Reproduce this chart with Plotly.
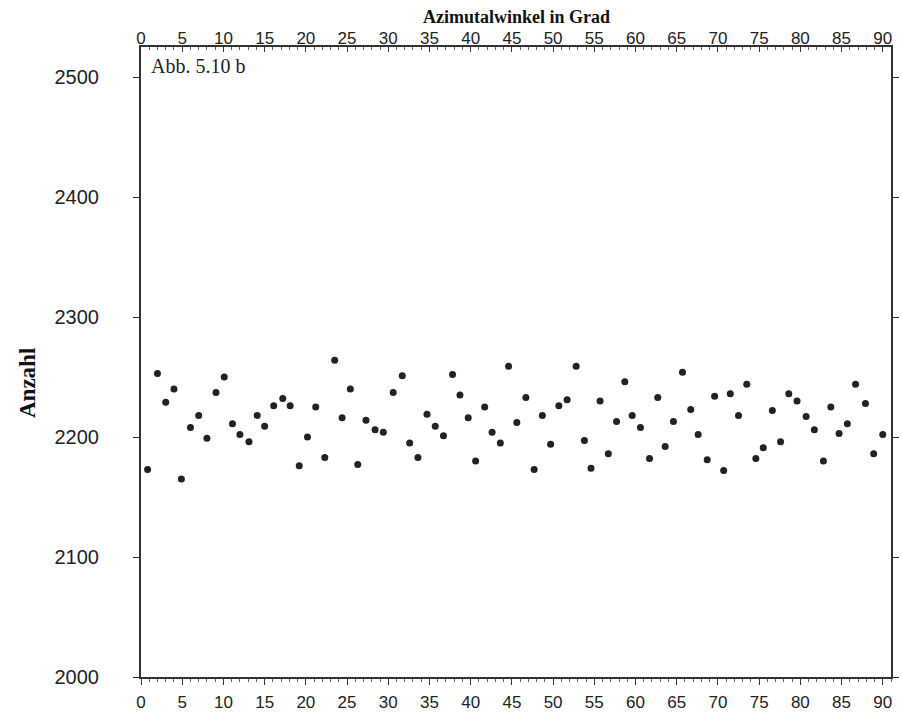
import plotly.graph_objects as go

# Azimuthal angle (degrees) of each point
winkel = [0.8, 2.0, 3.0, 4.0, 4.9, 6.0, 7.0, 8.0, 9.1, 10.1, 11.1, 12.0, 13.1, 14.1, 15.0,
          16.1, 17.2, 18.1, 19.2, 20.2, 21.2, 22.3, 23.5, 24.4, 25.4, 26.3, 27.3, 28.4, 29.4,
          30.6, 31.7, 32.6, 33.6, 34.7, 35.7, 36.7, 37.8, 38.7, 39.7, 40.6, 41.7, 42.6, 43.6,
          44.6, 45.6, 46.7, 47.7, 48.7, 49.7, 50.7, 51.7, 52.8, 53.8, 54.6, 55.7, 56.7, 57.7,
          58.7, 59.6, 60.6, 61.7, 62.7, 63.6, 64.6, 65.7, 66.7, 67.6, 68.7, 69.6, 70.7, 71.5,
          72.5, 73.5, 74.6, 75.5, 76.6, 77.6, 78.6, 79.6, 80.7, 81.7, 82.8, 83.7, 84.7, 85.7,
          86.7, 87.9, 88.9, 90.0]

# Counts (Anzahl)
anzahl = [2173, 2253, 2229, 2240, 2165, 2208, 2218, 2199, 2237, 2250, 2211, 2202, 2196, 2218, 2209,
          2226, 2232, 2226, 2176, 2200, 2225, 2183, 2264, 2216, 2240, 2177, 2214, 2206, 2204,
          2237, 2251, 2195, 2183, 2219, 2209, 2201, 2252, 2235, 2216, 2180, 2225, 2204, 2195,
          2259, 2212, 2233, 2173, 2218, 2194, 2226, 2231, 2259, 2197, 2174, 2230, 2186, 2213,
          2246, 2218, 2208, 2182, 2233, 2192, 2213, 2254, 2223, 2202, 2181, 2234, 2172, 2236,
          2218, 2244, 2182, 2191, 2222, 2196, 2236, 2230, 2217, 2206, 2180, 2225, 2203, 2211,
          2244, 2228, 2186, 2202]

x_ticks = list(range(0, 91, 5))
y_ticks = [2000, 2100, 2200, 2300, 2400, 2500]

tick_font = dict(family="Liberation Sans, Arial, sans-serif", size=17, color="#222")
serif = "Liberation Serif, Times New Roman, serif"
line_col = "#333"

fig = go.Figure()
fig.add_trace(go.Scatter(
    x=winkel, y=anzahl, mode="markers",
    marker=dict(size=7, color="#222"),
    showlegend=False, hoverinfo="x+y"))
# invisible trace so the top axis is drawn
fig.add_trace(go.Scatter(x=[winkel[0]], y=[anzahl[0]], xaxis="x2", mode="markers",
                         marker=dict(size=1, opacity=0), showlegend=False, hoverinfo="skip"))

axis_common = dict(
    range=[0, 91], tickvals=x_ticks, ticktext=[str(v) for v in x_ticks],
    tickfont=tick_font, tickcolor=line_col, tickwidth=1,
    showgrid=False, zeroline=False, showline=True, linecolor=line_col, linewidth=2,
    automargin=False,
)

fig.update_layout(
    width=902, height=716,
    margin=dict(l=141, r=11, t=47, b=39),
    paper_bgcolor="white", plot_bgcolor="white",
    xaxis=dict(**axis_common, side="bottom", ticks="outside", ticklen=6,
               minor=dict(ticks="outside", dtick=1, ticklen=3, tickcolor="#666", tickwidth=1),
               ticklabelstandoff=3),
    xaxis2=dict(**axis_common, side="top", overlaying="x", matches="x", anchor="y",
                ticks="inside", ticklen=5,
                minor=dict(ticks="inside", dtick=1, ticklen=3, tickcolor="#666", tickwidth=1),
                ticklabelstandoff=-6),
    yaxis=dict(range=[2000, 2525], tickvals=y_ticks, ticktext=[str(v) for v in y_ticks],
               tickfont=dict(family="Liberation Sans, Arial, sans-serif", size=20, color="#222"),
               ticks="outside", ticklen=6, tickcolor=line_col,
               showgrid=False, zeroline=False, showline=True, linecolor=line_col,
               linewidth=2, mirror="ticks", ticklabelstandoff=30, automargin=False),
    annotations=[
        dict(text="Azimutalwinkel in Grad", xref="paper", yref="paper",
             x=0.5, y=1 + (47 - 17) / 630, xanchor="center", yanchor="middle",
             showarrow=False,
             font=dict(family=serif, size=18, color="#111", weight="bold")),
        dict(text="Anzahl", xref="paper", yref="paper",
             x=(27 - 141) / 750, y=(677 - 383) / 630, textangle=-90,
             xanchor="center", yanchor="middle", showarrow=False,
             font=dict(family=serif, size=23, color="#111", weight="bold")),
        dict(text="Abb. 5.10 b", xref="paper", yref="paper",
             x=(149 - 141) / 750, y=(677 - 66) / 630, xanchor="left", yanchor="middle",
             showarrow=False,
             font=dict(family=serif, size=20, color="#222")),
    ],
)

fig.write_html("out.html")
